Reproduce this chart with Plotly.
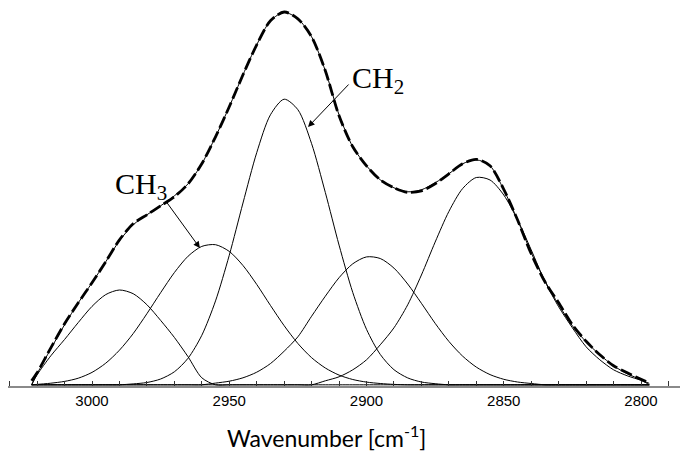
import plotly.graph_objects as go

# Wavenumber grid (cm-1)
wavenumber = [3022, 3020, 3015, 3010, 3005, 3000, 2995, 2990, 2985, 2980, 2975, 2970,
              2965, 2960, 2955, 2950, 2945, 2940, 2935, 2930, 2925, 2920, 2915, 2910,
              2905, 2900, 2895, 2890, 2885, 2880, 2875, 2870, 2865, 2860, 2855, 2850,
              2845, 2840, 2835, 2830, 2825, 2820, 2815, 2810, 2805, 2800, 2797]

# Measured spectrum (dashed)
measured = [4, 12, 37, 61, 82, 102, 123, 145, 161, 170, 179, 188,
            201, 221, 248, 278, 310, 340, 364, 372.8, 366, 348, 314, 269,
            238, 219, 205, 197, 192.5, 194, 201, 211, 221, 225.5, 219, 195.5,
            165, 131, 103, 82, 60, 43.5, 30, 19, 12, 5.5, 1.7]

# Fitted envelope (thin)
fit_sum = [0, 11, 36, 60, 82, 102, 123, 144, 160, 170, 179, 189,
           201, 221, 248, 278, 310, 340, 364, 372.5, 366, 348, 314, 270,
           238, 219, 205, 197, 193, 195, 202, 211, 221, 225, 219, 195,
           165, 132, 104, 80, 59, 43, 30, 19, 11, 5, 0]

# Fitted component bands
band_3010 = [0, 10, 29, 45.3, 62.3, 78.4, 90.2, 94.8, 91.1, 80.1, 64.4, 47.4,
             28, 7, 0, 0, 0, 0, 0, 0, 0, 0, 0, 0,
             0, 0, 0, 0, 0, 0, 0, 0, 0, 0, 0, 0,
             0, 0, 0, 0, 0, 0, 0, 0, 0, 0, 0]
band_2957 = [0, 0.4, 1.6, 3.4, 6.6, 12.4, 21.6, 34.6, 51.2, 71.1, 92.1, 112.2,
             128.6, 138.4, 140.1, 133.4, 119.3, 100.4, 79.4, 59.1, 41.3, 27.1, 16.8, 9.7,
             5.3, 2.7, 1.3, 0.4, 0, 0, 0, 0, 0, 0, 0, 0,
             0, 0, 0, 0, 0, 0, 0, 0, 0, 0, 0]
band_2930 = [0, 0, 0, 0, 0, 0, 0, 0, 0.9, 2.3, 5.8, 13,
             26.6, 49.5, 83.9, 129.5, 181.8, 232.1, 270, 285.6, 275.1, 241.1, 192.3, 139.7,
             92.3, 55.5, 30.4, 15.1, 6.9, 2.8, 1.1, 0, 0, 0, 0, 0,
             0, 0, 0, 0, 0, 0, 0, 0, 0, 0, 0]
band_2898 = [0, 0, 0, 0, 0, 0, 0, 0, 0, 0, 0, 0,
             0, 0, 1.7, 3.6, 7.0, 12.6, 21.2, 33.6, 48, 68.6, 88.6, 107.1,
             121, 127.9, 126.3, 116.7, 100.8, 81.5, 61.5, 43.4, 28.7, 17.7, 10.2, 5.5,
             2.8, 1.3, 0, 0, 0, 0, 0, 0, 0, 0, 0]
band_2858 = [0, 0, 0, 0, 0, 0, 0, 0, 0, 0, 0, 0,
             0, 0, 0, 0, 0, 0, 0, 0, 0, 0, 4, 8,
             15, 25, 40, 57, 80, 109.8, 142.7, 173.3, 196.2, 207.3, 204.8, 189.8,
             165.1, 134.9, 103.4, 78, 57, 38, 25, 15, 9, 4.5, 1.5]

bands = [band_3010, band_2957, band_2930, band_2898, band_2858]

tick_values = [3030, 3020, 3010, 3000, 2990, 2980, 2970, 2960, 2950, 2940, 2930, 2920,
               2910, 2900, 2890, 2880, 2870, 2860, 2850, 2840, 2830, 2820, 2810, 2800, 2790]
tick_labels = ["", "", "", "3000", "", "", "", "", "2950", "", "", "",
               "", "2900", "", "", "", "", "2850", "", "", "", "", "2800", ""]

fig = go.Figure()

for b in bands:
    fig.add_trace(go.Scatter(x=wavenumber, y=b, mode="lines",
                             line=dict(color="black", width=1, shape="spline", smoothing=0.8),
                             showlegend=False, hoverinfo="skip"))

fig.add_trace(go.Scatter(x=wavenumber, y=fit_sum, mode="lines",
                         line=dict(color="black", width=1, shape="spline", smoothing=0.8),
                         showlegend=False, hoverinfo="skip"))
fig.add_trace(go.Scatter(x=wavenumber, y=measured, mode="lines",
                         line=dict(color="black", width=2.8, shape="spline", smoothing=0.8,
                                   dash="12px,4px"),
                         showlegend=False, hoverinfo="skip"))

serif = dict(family="Liberation Serif, Times New Roman, serif", size=30, color="black")

fig.add_annotation(x=2992.3, y=199, xref="x", yref="y", text="CH<sub>3</sub>",
                   showarrow=False, xanchor="left", yanchor="middle", font=serif)
fig.add_annotation(x=2906.0, y=305, xref="x", yref="y", text="CH<sub>2</sub>",
                   showarrow=False, xanchor="left", yanchor="middle", font=serif)

fig.add_annotation(x=2960.7, y=136.8, ax=2973.4, ay=184.8, xref="x", yref="y",
                   axref="x", ayref="y", text="", showarrow=True,
                   arrowhead=2, arrowsize=1.3, arrowwidth=1, arrowcolor="black")
fig.add_annotation(x=2921.3, y=257.8, ax=2906.0, ay=301.8, xref="x", yref="y",
                   axref="x", ayref="y", text="", showarrow=True,
                   arrowhead=2, arrowsize=1.3, arrowwidth=1, arrowcolor="black")

fig.add_annotation(x=0.4747, y=-0.134, xref="paper", yref="paper",
                   text="Wavenumber [cm<sup>-1</sup>]", showarrow=False,
                   xanchor="center", yanchor="middle",
                   font=dict(family="Lato, Open Sans, sans-serif", size=23, color="black"))

fig.update_layout(
    width=692, height=452,
    margin=dict(l=8, r=12, t=6, b=66),
    paper_bgcolor="white", plot_bgcolor="white",
    xaxis=dict(range=[3030.6, 2785.8], showline=True, linecolor="#8a8a8a", linewidth=2,
               ticks="inside", ticklen=5, tickwidth=1, tickcolor="#333333",
               tickvals=tick_values, ticktext=tick_labels,
               tickfont=dict(family="Liberation Sans, Arial, sans-serif", size=15, color="black"),
               showgrid=False, zeroline=False),
    yaxis=dict(range=[-1.2, 378.8], visible=False, showgrid=False, zeroline=False),
)

fig.write_html("out.html")
